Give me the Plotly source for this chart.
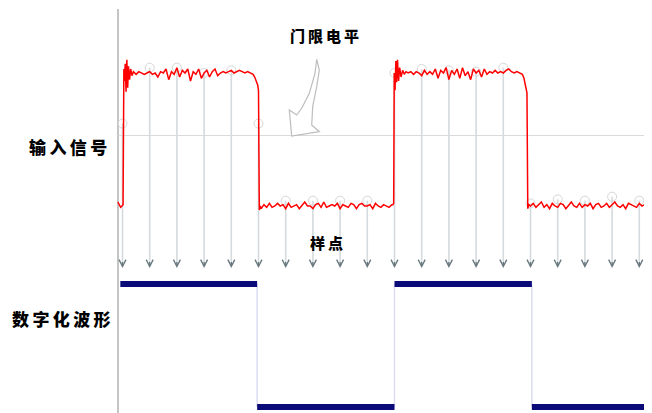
import numpy as np
import plotly.graph_objects as go

# ---------------- data ----------------
# sampling instants (in sample periods) and the input value read at each
sample_idx = list(range(20))
sample_val = [0.62, 1.04, 1.04, 1.00, 1.02, 0.62, 0.04, 0.04, 0.04, 0.04,
              1.00, 1.03, 1.02, 1.01, 1.04, 0.02, 0.05, 0.04, 0.07, 0.04]

threshold = 0.53

# noisy input signal, piecewise
rise1_t = [-0.17, -0.12, -0.07, -0.02, 0.02, 0.05, 0.07, 0.1, 0.13, 0.16, 0.19, 0.22, 0.26, 0.3, 0.35, 0.4]
rise1_v = [0.03, 0.01, -0.01, 0.0, 0.01, 1.03, 0.94, 1.07, 0.86, 1.10, 0.89, 1.05, 0.95, 1.03, 0.98, 1.01]
high1_v = [0.99, 1.01, 1.00, 0.99, 1.00, 1.01, 0.99, 1.00, 0.97, 1.01,
           1.00, 1.03, 0.95, 1.01, 0.99, 1.04, 0.97, 1.02, 1.00, 1.03,
           0.94, 1.01, 0.99, 1.03, 0.96, 1.00, 1.02, 0.97, 1.01, 1.03,
           0.98, 1.00, 1.01, 1.00, 1.01, 1.02, 1.00, 1.01, 1.02, 1.01,
           1.00, 1.01]
fall1_t = [4.7, 4.8, 4.86, 4.92, 4.97, 5.0, 5.03, 5.07]
fall1_v = [1.0, 0.99, 0.97, 0.94, 0.91, 0.87, -0.03, 0.0]
low1_v = [-0.02, 0.01, -0.01, 0.02, -0.01, 0.00, 0.02, 0.00, 0.01, -0.02,
          0.02, -0.01, 0.00, 0.01, -0.02, 0.01, 0.03, 0.00, 0.00, -0.02,
          0.01, 0.02, -0.01, 0.03, -0.01, 0.00, 0.01, 0.00, 0.02, -0.02,
          0.01, 0.00, -0.01, 0.02, 0.01, -0.02, 0.01, 0.02, 0.00, 0.00,
          0.01, -0.02, 0.02, 0.00, -0.01, 0.01, 0.00, -0.01, 0.01]
rise2_t = [9.94, 9.97, 9.99, 10.02, 10.05, 10.08, 10.11, 10.15, 10.19, 10.24, 10.3, 10.36, 10.42]
rise2_v = [0.01, 0.02, 1.0, 0.87, 1.09, 0.93, 1.10, 0.94, 1.04, 0.97, 1.02, 0.99, 1.01]
high2_v = [1.00, 1.01, 0.99, 1.01, 1.00, 0.98, 1.02, 0.99, 1.01, 0.99,
           1.03, 0.96, 1.02, 1.00, 1.04, 0.95, 1.02, 0.99, 1.03, 0.96,
           1.04, 0.98, 1.01, 0.95, 1.03, 1.00, 1.02, 0.97, 1.03, 0.99,
           1.01, 1.00, 1.02, 1.00, 1.01, 1.00, 1.02, 1.03, 1.01, 1.00,
           1.01, 1.00]
fall2_t = [14.7, 14.76, 14.8, 14.84, 14.87, 14.9, 14.94]
fall2_v = [0.99, 0.96, 0.92, 0.88, 0.85, -0.02, 0.01]
low2_v = [0.00, 0.02, -0.01, 0.01, 0.03, -0.01, 0.01, -0.02, 0.02, 0.00,
          -0.01, 0.02, 0.01, -0.02, 0.01, 0.03, 0.00, -0.01, 0.02, -0.01,
          0.01, 0.00, 0.02, -0.02, 0.01, 0.02, -0.01, 0.00, 0.02, -0.01,
          0.01, 0.03, 0.00, -0.01, 0.01, -0.02, 0.02, 0.01, 0.00, -0.01,
          0.02, 0.00, 0.01, -0.01, 0.02, 0.00]

# digitised waveform
digital_edges = [-0.08, 4.95, 10.0, 15.05, 19.5]
digital_levels = [1, 0, 1, 0]

labels = {"threshold": "门限电平", "input": "输入信号", "samples": "样点", "digital": "数字化波形"}

# ---------------- build ----------------
def grid(start, vals, step=0.1):
    return [round(start + step * i, 3) for i in range(len(vals))]

sig_t = (rise1_t + grid(0.5, high1_v) + fall1_t + grid(5.1, low1_v) +
         rise2_t + grid(10.5, high2_v) + fall2_t + grid(15.0, low2_v))
sig_v = (rise1_v + high1_v + fall1_v + low1_v + rise2_v + high2_v + fall2_v + low2_v)

W, H = 652, 413
OFF = 8  # page body margin
X_RANGE = [-4.2096, 19.761]
Y_RANGE = [-1.6165, 1.4887]
Y2_RANGE = [-0.1138, 3.2439]
AXIS_T = -0.165
SHAFT_END = -0.42
TIP = -0.466

def px2paper(px, py):
    return (px - OFF) / W, 1 - (py - OFF) / H

fig = go.Figure()

# sample shafts
sx, sy = [], []
for k, v in zip(sample_idx, sample_val):
    sx += [k, k, None]
    sy += [v, SHAFT_END, None]
fig.add_trace(go.Scatter(x=sx, y=sy, mode="lines", line=dict(color="#d4dadd", width=1.6),
                         hoverinfo="skip", showlegend=False))
# sample circles
fig.add_trace(go.Scatter(x=sample_idx, y=sample_val, mode="markers",
                         marker=dict(symbol="circle-open", size=9, color="#d6d6d6", line=dict(width=1)),
                         hoverinfo="skip", showlegend=False))
# input signal
fig.add_trace(go.Scatter(x=sig_t, y=sig_v, mode="lines", line=dict(color="#ff0000", width=1.5),
                         hoverinfo="skip", showlegend=False))

# digital verticals
vx, vy = [], []
for e in digital_edges[1:-1]:
    vx += [e, e, None]
    vy += [1, 0, None]
fig.add_trace(go.Scatter(x=vx, y=vy, yaxis="y2", mode="lines", line=dict(color="#dcdcf2", width=1.5),
                         hoverinfo="skip", showlegend=False))
# digital bars
bx, by = [], []
for i, lv in enumerate(digital_levels):
    bx += [digital_edges[i], digital_edges[i + 1], None]
    by += [lv, lv, None]
fig.add_trace(go.Scatter(x=bx, y=by, yaxis="y2", mode="lines", line=dict(color="#0a0a78", width=6),
                         hoverinfo="skip", showlegend=False))

# arrow heads
for k in sample_idx:
    fig.add_annotation(x=k, y=TIP, ax=k, ay=SHAFT_END + 0.01, xref="x", yref="y", axref="x", ayref="y",
                       showarrow=True, arrowhead=5, arrowsize=0.9, arrowwidth=1.5,
                       arrowcolor="#68787f", text="")

shapes = []
# vertical axis line
shapes.append(dict(type="line", xref="x", yref="paper", x0=AXIS_T, x1=AXIS_T, y0=0, y1=px2paper(0, 9)[1],
                   line=dict(color="#c4c4c4", width=2), layer="below"))
# threshold line
shapes.append(dict(type="line", xref="x", yref="y", x0=AXIS_T, x1=X_RANGE[1], y0=threshold, y1=threshold,
                   line=dict(color="#dadada", width=1), layer="below"))

# curved hollow pointer (page-pixel outline -> paper)
ptr = [(316.7, 59.3), (319.3, 70), (316.7, 86.7), (312.7, 106.7), (311.7, 125), (319.3, 131.7),
       (291.7, 136), (289.3, 110), (296.7, 115), (301.7, 108.3), (309.3, 93.3), (315, 73.3)]
path = "M " + " L ".join("%.5f,%.5f" % px2paper(px, py) for px, py in ptr) + " Z"
shapes.append(dict(type="path", xref="paper", yref="paper", path=path,
                   line=dict(color="#bdbdbd", width=1.2), fillcolor="white", layer="above"))

font = dict(family="Noto Sans CJK SC", size=17, color="#000000", weight=900)
sp = "\u2009"
def lab(txt, px, py, size=17):
    f = dict(font)
    f["size"] = size
    x, y = px2paper(px, py)
    fig.add_annotation(x=x, y=y, xref="paper", yref="paper", text=sp.join(txt),
                       showarrow=False, xanchor="center", yanchor="middle", font=f)

lab(labels["threshold"], 324, 35, 15)
lab(labels["input"], 67.5, 147, 17)
lab(labels["samples"], 326, 242, 15)
lab(labels["digital"], 61, 318, 17)

fig.update_layout(
    width=W, height=H, margin=dict(l=0, r=0, t=0, b=0),
    paper_bgcolor="white", plot_bgcolor="white",
    xaxis=dict(range=X_RANGE, visible=False, fixedrange=True),
    yaxis=dict(range=Y_RANGE, visible=False, fixedrange=True, domain=[0, 1]),
    yaxis2=dict(range=Y2_RANGE, visible=False, overlaying="y", fixedrange=True),
    shapes=shapes, showlegend=False,
)
fig.write_html("out.html")
